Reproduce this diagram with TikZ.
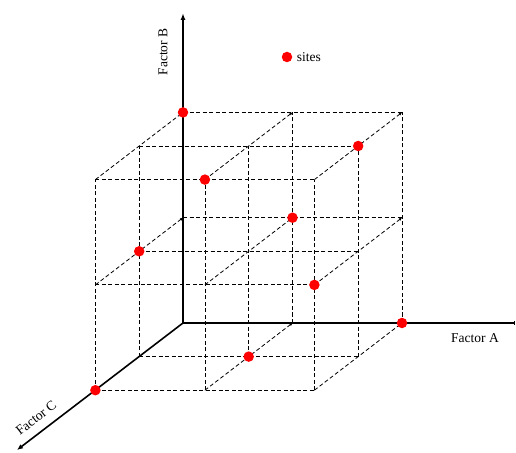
\documentclass[tikz,border=0pt]{standalone}
\usepackage{fontspec}
\setmainfont{Liberation Serif}
\usetikzlibrary{arrows.meta}

\begin{document}
\begin{tikzpicture}[x={(109.5pt,0pt)},y={(0pt,105.3pt)},z={(-43.8pt,-33.6pt)},>=Latex,
  gridline/.style={dash pattern=on 4pt off 2.5pt,line width=0.8pt},
  axisline/.style={line width=1.6pt},
  site/.style={circle,fill=red,inner sep=0pt,minimum size=10.5pt},
  lbl/.style={font=\fontsize{13.5}{15}\selectfont}]
  \useasboundingbox (-183pt,-129pt) rectangle (333pt,323pt);
  % lattice of the three factor levels
  \foreach \c in {0,1,2} {
    \foreach \b in {0,1,2} \draw[gridline] (0,\b,\c) -- (2,\b,\c);
    \foreach \a in {0,1,2} \draw[gridline] (\a,0,\c) -- (\a,2,\c);
  }
  \foreach \a/\b in {0/1,0/2,1/0,1/1,1/2,2/0,2/1,2/2}
    \draw[gridline,-{Latex[length=3pt,width=3pt]}] (\a,\b,2) -- (\a,\b,0);
  % axes
  \coordinate (O) at (0,0,0);
  \coordinate (Aend) at (332pt,0pt);
  \coordinate (Bend) at (0pt,310pt);
  \coordinate (Cend) at (-166pt,-127pt);
  \draw[axisline,-{Latex[length=7pt,width=5pt]}] (O) -- (Bend);
  \draw[axisline,-{Bar[width=4pt,line width=0.7pt]}] (O) -- (Aend);
  \draw[axisline,-{Latex[length=6pt,width=5pt]}] (O) -- (Cend);
  \node[lbl,rotate=90] (labB) at (-20pt,271pt) {Factor B};
  \node[lbl] (labA) at (292pt,-15pt) {Factor A};
  \node[lbl,rotate=38] (labC) at (-147pt,-95pt) {Factor C};
  % sites
  \node[site] (s1) at (0,2,0) {};
  \node[site] (s2) at (2,2,1) {};
  \node[site] (s3) at (1,2,2) {};
  \node[site] (s4) at (1,1,0) {};
  \node[site] (s5) at (0,1,1) {};
  \node[site] (s6) at (2,1,2) {};
  \node[site] (s7) at (2,0,0) {};
  \node[site] (s8) at (1,0,1) {};
  \node[site] (s9) at (0,0,2) {};
  % legend
  \node[site] (key) at (104pt,266pt) {};
  \node[lbl,right=1pt] (keytext) at (key.east) {sites};
\end{tikzpicture}
\end{document}
